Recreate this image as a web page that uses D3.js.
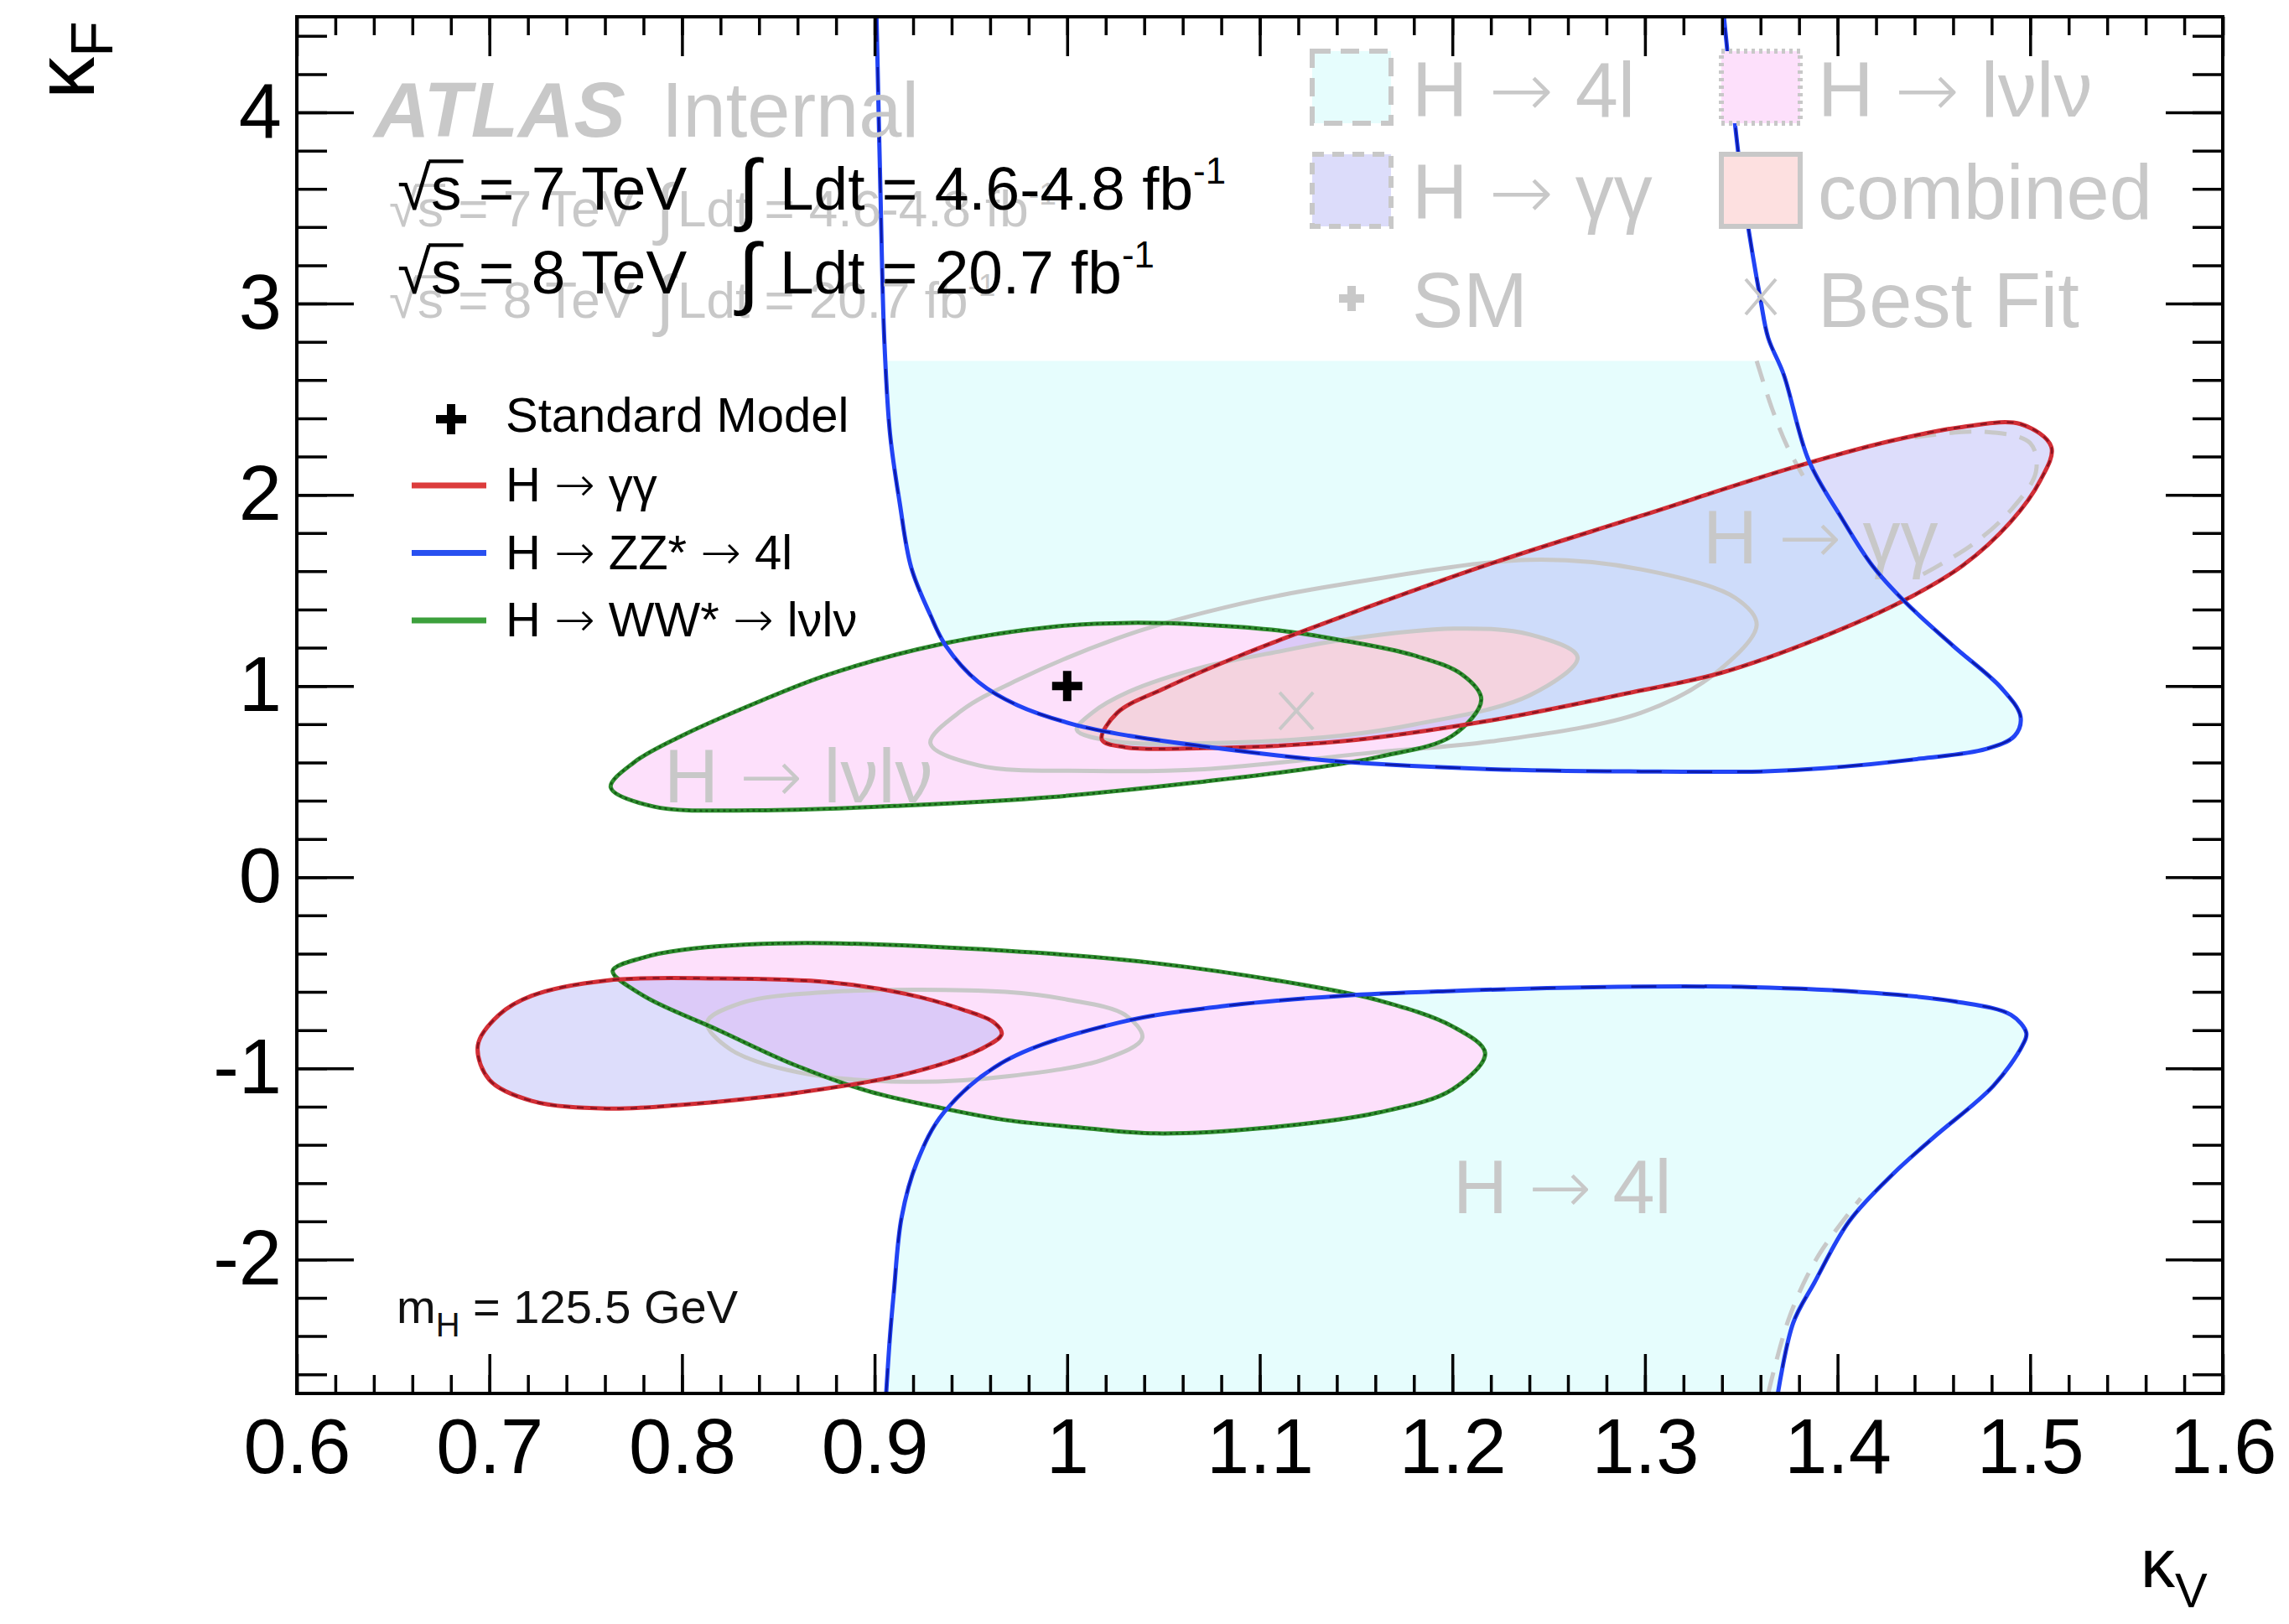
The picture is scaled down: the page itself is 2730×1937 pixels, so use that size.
<!DOCTYPE html>
<html>
<head>
<meta charset="utf-8">
<script src="https://cdn.jsdelivr.net/npm/d3@7"></script>
<style>
  body { margin: 0; background: #fff; }
  text { font-family: "Liberation Sans", Arial, Helvetica, sans-serif; }
</style>
</head>
<body>
<script>
// axis ranges and tick labels
const kvRange = [0.6, 1.6];
const kfRange = [-2.7, 4.5];
const xTickVals = [0.6, 0.7, 0.8, 0.9, 1.0, 1.1, 1.2, 1.3, 1.4, 1.5, 1.6];
const yTickVals = [-2, -1, 0, 1, 2, 3, 4];
const fillCut = 2.7; // old legend pad hides fills above this kF

// contours, [kV, kF]
const fourUpper = [[0.901,4.5],[0.903,3.6],[0.905,2.82],[0.908,2.32],[0.913,1.96],[0.919,1.62],[0.929,1.37],[0.937,1.21],[0.954,1.02],[0.974,0.90],[1.003,0.80],[1.032,0.74],[1.071,0.684],[1.11,0.636],[1.142,0.605],[1.22,0.565],[1.298,0.553],[1.36,0.553],[1.393,0.57],[1.443,0.62],[1.477,0.67],[1.492,0.74],[1.495,0.84],[1.485,0.99],[1.46,1.21],[1.435,1.44],[1.418,1.63],[1.402,1.88],[1.385,2.18],[1.372,2.63],[1.364,2.82],[1.36,3.02],[1.351,3.58],[1.341,4.5]];
const fourLower = [[0.906,-2.7],[0.908,-2.4],[0.91,-2.17],[0.914,-1.78],[0.922,-1.49],[0.936,-1.23],[0.968,-0.96],[1.027,-0.76],[1.085,-0.67],[1.143,-0.62],[1.2,-0.595],[1.273,-0.575],[1.356,-0.575],[1.419,-0.605],[1.461,-0.65],[1.49,-0.72],[1.498,-0.815],[1.496,-0.88],[1.481,-1.09],[1.45,-1.36],[1.429,-1.55],[1.406,-1.8],[1.388,-2.12],[1.377,-2.33],[1.369,-2.7]];
const gamUpper = [[1.018,0.72],[1.026,0.86],[1.051,0.99],[1.09,1.16],[1.142,1.36],[1.22,1.64],[1.298,1.89],[1.376,2.14],[1.427,2.28],[1.465,2.355],[1.495,2.37],[1.511,2.25],[1.505,2.07],[1.49,1.86],[1.465,1.63],[1.435,1.45],[1.393,1.26],[1.34,1.07],[1.29,0.96],[1.22,0.82],[1.142,0.71],[1.071,0.675],[1.03,0.68]];
const gamLower = [[0.694,-0.88],[0.705,-0.72],[0.722,-0.62],[0.761,-0.54],[0.819,-0.53],[0.877,-0.55],[0.916,-0.61],[0.945,-0.69],[0.962,-0.76],[0.966,-0.82],[0.955,-0.9],[0.916,-1.03],[0.858,-1.13],[0.8,-1.19],[0.761,-1.21],[0.722,-1.17],[0.7,-1.06]];
const wwUpper = [[0.763,0.47],[0.775,0.6],[0.8,0.74],[0.838,0.91],[0.876,1.06],[0.935,1.22],[0.993,1.31],[1.032,1.33],[1.071,1.32],[1.11,1.29],[1.142,1.24],[1.18,1.16],[1.205,1.06],[1.215,0.93],[1.2,0.74],[1.162,0.63],[1.12,0.56],[1.071,0.5],[0.993,0.42],[0.916,0.375],[0.838,0.35],[0.785,0.37]];
const wwLower = [[0.764,-0.49],[0.78,-0.42],[0.8,-0.38],[0.858,-0.345],[0.968,-0.385],[1.046,-0.45],[1.124,-0.566],[1.162,-0.645],[1.2,-0.78],[1.217,-0.92],[1.2,-1.11],[1.162,-1.23],[1.104,-1.31],[1.046,-1.34],[1.007,-1.31],[0.968,-1.27],[0.936,-1.21],[0.897,-1.12],[0.858,-0.98],[0.819,-0.8],[0.78,-0.62]];
const combInner = [[1.005,0.77],[1.013,0.86],[1.032,0.97],[1.071,1.1],[1.11,1.18],[1.142,1.24],[1.201,1.3],[1.24,1.27],[1.265,1.15],[1.24,0.95],[1.181,0.8],[1.142,0.74],[1.071,0.7],[1.025,0.71]];
const combOuter = [[0.929,0.7],[0.945,0.87],[0.974,1.03],[1.032,1.27],[1.09,1.43],[1.142,1.53],[1.24,1.66],[1.298,1.61],[1.347,1.46],[1.358,1.32],[1.337,1.07],[1.298,0.86],[1.22,0.71],[1.162,0.655],[1.071,0.565],[1.013,0.556],[0.954,0.585]];
const combLower = [[0.813,-0.76],[0.83,-0.66],[0.877,-0.6],[0.968,-0.6],[1.0,-0.64],[1.03,-0.72],[1.039,-0.84],[1.02,-0.95],[0.97,-1.04],[0.916,-1.07],[0.86,-1.02],[0.825,-0.9]];
// old (gray, dashed) outlines where they peek out
const old4lUpper = [[1.358,2.7],[1.366,2.45],[1.374,2.25],[1.382,2.1]];
const old4lLower = [[1.364,-2.7],[1.375,-2.3],[1.39,-1.98],[1.412,-1.68]];
const oldGamTip = [[1.44,2.3],[1.475,2.33],[1.5,2.27],[1.503,2.12],[1.49,1.92],[1.47,1.74],[1.44,1.56]];

const smPoint = [1.0, 1.0];
const bestFit = [1.119, 0.87];

const W = 2730, H = 1937;
const frame = { left: 354, right: 2651, top: 20, bottom: 1662 };
const grey = "#c8c8c8";
const ARROW = "\u2192";

const x = d3.scaleLinear().domain(kvRange).range([frame.left, frame.right]);
const y = d3.scaleLinear().domain(kfRange).range([frame.bottom, frame.top]);

const svg = d3.select("body").append("svg").attr("width", W).attr("height", H);

// writes a label, drawing the arrows in a font with a long arrow glyph
const richText = (t, str) => {
  str.split(ARROW).forEach((part, i) => {
    if (i > 0) t.append("tspan").style("font-family", "'DejaVu Sans'").attr("font-weight", 200).text(ARROW);
    if (part) t.append("tspan").text(part);
  });
  return t;
};

svg.append("clipPath").attr("id", "plot")
  .append("rect")
  .attr("x", frame.left).attr("y", frame.top)
  .attr("width", frame.right - frame.left).attr("height", frame.bottom - frame.top);
svg.append("clipPath").attr("id", "fillcut")
  .append("rect")
  .attr("x", frame.left).attr("y", y(fillCut))
  .attr("width", frame.right - frame.left).attr("height", frame.bottom - y(fillCut));

let openLine = d3.line().x(d => x(d[0])).y(d => y(d[1])).curve(d3.curveCatmullRom.alpha(0.5));
let closedLine = d3.line().x(d => x(d[0])).y(d => y(d[1])).curve(d3.curveCatmullRomClosed.alpha(0.5));

const plot = svg.append("g").attr("clip-path", "url(#plot)");

// fills
const fills = plot.append("g").attr("clip-path", "url(#fillcut)");
fills.append("path").attr("d", openLine(fourUpper) + "Z").attr("fill", "#e6fdfd");
fills.append("path").attr("d", openLine(fourLower) + "Z").attr("fill", "#e6fdfd");
[wwUpper, wwLower].forEach(c => {
  fills.append("path").attr("d", closedLine(c)).attr("fill", "#fde0fb");
});
[gamUpper, gamLower].forEach(c => {
  fills.append("path").attr("d", closedLine(c)).attr("fill", "rgba(170,170,245,0.4)");
});
fills.append("path").attr("d", closedLine(combInner)).attr("fill", "#f4d3df");

// grey overlay labels inside the plot
const greyLabels = [
  { t: "H " + ARROW + " \u03b3\u03b3", x: 2031, y: 672 },
  { t: "H " + ARROW + " l\u03bdl\u03bd", x: 792, y: 957 },
  { t: "H " + ARROW + " 4l", x: 1733, y: 1447 }
];
greyLabels.forEach(d => {
  richText(plot.append("text").attr("x", d.x).attr("y", d.y)
    .attr("font-size", 90).attr("fill", grey), d.t);
});

// grey combined contours
[combOuter, combInner, combLower].forEach(c => {
  plot.append("path").attr("d", closedLine(c))
    .attr("fill", "none").attr("stroke", grey).attr("stroke-width", 5);
});
[old4lUpper, old4lLower, oldGamTip].forEach(c => {
  plot.append("path").attr("d", openLine(c))
    .attr("fill", "none").attr("stroke", grey).attr("stroke-width", 5)
    .attr("stroke-dasharray", "26,16");
});

// coloured contour lines
const drawContour = (d, col, dark, dash) => {
  plot.append("path").attr("d", d).attr("fill", "none")
    .attr("stroke", col).attr("stroke-width", 5);
  plot.append("path").attr("d", d).attr("fill", "none")
    .attr("stroke", dark).attr("stroke-width", 2.5)
    .attr("stroke-dasharray", dash);
};
drawContour(closedLine(wwUpper), "#2e8b2e", "#145a14", "3,4");
drawContour(closedLine(wwLower), "#2e8b2e", "#145a14", "3,4");
drawContour(closedLine(gamUpper), "#d22e36", "#8c1420", "8,8");
drawContour(closedLine(gamLower), "#d22e36", "#8c1420", "8,8");
drawContour(openLine(fourUpper), "#2244f5", "#0c1aa8", "30,30");
drawContour(openLine(fourLower), "#2244f5", "#0c1aa8", "30,30");

// SM cross and best fit marker
plot.append("path")
  .attr("d", `M${x(smPoint[0]) - 18},${y(smPoint[1])}h36M${x(smPoint[0])},${y(smPoint[1]) - 18}v36`)
  .attr("stroke", "#000").attr("stroke-width", 10);
plot.append("path")
  .attr("d", `M${x(bestFit[0]) - 20},${y(bestFit[1]) - 22}l40,44M${x(bestFit[0]) + 20},${y(bestFit[1]) - 22}l-40,44`)
  .attr("stroke", grey).attr("stroke-width", 4);

// axes
const fmt = d => String(+d.toFixed(1));
const axisStyle = g => {
  g.select(".domain").remove();
  g.selectAll("line").attr("stroke", "#000").attr("stroke-width", 3.5);
  g.selectAll("text").attr("font-size", 92).attr("fill", "#000")
    .style("font-family", "'Liberation Sans', Arial, sans-serif");
};
svg.append("g").attr("transform", `translate(0,${frame.bottom})`)
  .call(d3.axisBottom(x).tickValues(xTickVals).tickSize(-47).tickPadding(30).tickFormat(fmt))
  .call(axisStyle);
svg.append("g").attr("transform", `translate(0,${frame.bottom})`)
  .call(d3.axisBottom(x).tickValues(x.ticks(50)).tickSize(-22).tickFormat(""))
  .call(axisStyle);
svg.append("g").attr("transform", `translate(0,${frame.top})`)
  .call(d3.axisTop(x).tickValues(xTickVals).tickSize(-47).tickFormat(""))
  .call(axisStyle);
svg.append("g").attr("transform", `translate(0,${frame.top})`)
  .call(d3.axisTop(x).tickValues(x.ticks(50)).tickSize(-22).tickFormat(""))
  .call(axisStyle);
svg.append("g").attr("transform", `translate(${frame.left},0)`)
  .call(d3.axisLeft(y).tickValues(yTickVals).tickSize(-68).tickPadding(18).tickFormat(d => String(d)))
  .call(axisStyle);
svg.append("g").attr("transform", `translate(${frame.left},0)`)
  .call(d3.axisLeft(y).tickValues(y.ticks(36)).tickSize(-36).tickFormat(""))
  .call(axisStyle);
svg.append("g").attr("transform", `translate(${frame.right},0)`)
  .call(d3.axisRight(y).tickValues(yTickVals).tickSize(-68).tickFormat(""))
  .call(axisStyle);
svg.append("g").attr("transform", `translate(${frame.right},0)`)
  .call(d3.axisRight(y).tickValues(y.ticks(36)).tickSize(-36).tickFormat(""))
  .call(axisStyle);
svg.append("rect")
  .attr("x", frame.left).attr("y", frame.top)
  .attr("width", frame.right - frame.left).attr("height", frame.bottom - frame.top)
  .attr("fill", "none").attr("stroke", "#000").attr("stroke-width", 4);

// axis titles
const kv = svg.append("text").attr("x", 2553).attr("y", 1893).attr("font-size", 82);
kv.append("tspan").text("\u03ba");
kv.append("tspan").attr("font-size", 58).attr("dy", 24).text("V");
const kf = svg.append("text").attr("transform", "translate(112,118) rotate(-90)").attr("font-size", 100);
kf.append("tspan").text("\u03ba");
kf.append("tspan").attr("font-size", 70).attr("dy", 22).text("F");

// ATLAS label and luminosity lines
const atlas = svg.append("text").attr("x", 446).attr("y", 163).attr("font-size", 92).attr("fill", grey);
atlas.append("tspan").attr("font-weight", "bold").attr("font-style", "italic").text("ATLAS");
atlas.append("tspan").attr("x", 789).text("Internal");

const lumiLines = [
  { e: "7", l: "4.6-4.8" },
  { e: "8", l: "20.7" }
];
const drawLumi = (g, d, x0, yb, size, col, intX, ldtX) => {
  const t = g.append("text").attr("x", x0).attr("y", yb).attr("font-size", size).attr("fill", col);
  t.append("tspan").text("\u221as");
  t.append("tspan").text(" = " + d.e + " TeV");
  t.append("tspan").attr("x", intX).attr("font-size", size * 1.3).attr("dy", size * 0.1).text("\u222b");
  t.append("tspan").attr("x", ldtX).attr("dy", -size * 0.1).text("Ldt = " + d.l + " fb");
  t.append("tspan").attr("font-size", size * 0.6).attr("dy", -size * 0.42).text("-1");
  // radical bar over the s
  const n = t.node();
  const s0 = n.getStartPositionOfChar(1).x, s1 = n.getEndPositionOfChar(1).x;
  g.append("line").attr("x1", s0 - 3).attr("x2", s1 + 2)
    .attr("y1", yb - size * 0.79).attr("y2", yb - size * 0.79)
    .attr("stroke", col).attr("stroke-width", size * 0.06);
};
lumiLines.forEach((d, i) => drawLumi(svg, d, 464, 270 + i * 109, 62, grey, 782, 808));
lumiLines.forEach((d, i) => drawLumi(svg, d, 474, 250 + i * 100, 73, "#000", 880, 930));

// new legend (left)
const legRows = [
  { t: "H " + ARROW + " \u03b3\u03b3", c: "#dc3c3c" },
  { t: "H " + ARROW + " ZZ* " + ARROW + " 4l", c: "#2850f0" },
  { t: "H " + ARROW + " WW* " + ARROW + " l\u03bdl\u03bd", c: "#3ca03c" }
];
svg.append("path").attr("d", "M520,500h36M538,482v36").attr("stroke", "#000").attr("stroke-width", 10);
svg.append("text").attr("x", 603).attr("y", 515).attr("font-size", 58).text("Standard Model");
legRows.forEach((d, i) => {
  const g = svg.append("g").attr("transform", `translate(0,${579 + i * 80.5})`);
  g.append("line").attr("x1", 491).attr("x2", 580).attr("stroke", d.c).attr("stroke-width", 7);
  richText(g.append("text").attr("x", 603).attr("y", 19).attr("font-size", 58), d.t);
});

// m_H label
const mh = svg.append("text").attr("x", 473).attr("y", 1578).attr("font-size", 56).attr("fill", "#111");
mh.append("tspan").text("m");
mh.append("tspan").attr("font-size", 40).attr("dy", 16).text("H");
mh.append("tspan").attr("dy", -16).text(" = 125.5 GeV");

// old legend (grey, top right)
const oldLeg = [
  { t: "H " + ARROW + " 4l", fill: "#e6fdfd", dash: "22,12", bx: 1565, by: 61, tx: 1684, ty: 139 },
  { t: "H " + ARROW + " l\u03bdl\u03bd", fill: "#fde0fb", dash: "4,5", bx: 2053, by: 61, tx: 2168, ty: 139 },
  { t: "H " + ARROW + " \u03b3\u03b3", fill: "#dcdcfa", dash: "14,10", bx: 1565, by: 184, tx: 1684, ty: 261 },
  { t: "combined", fill: "#fde0e0", dash: null, bx: 2053, by: 184, tx: 2168, ty: 261 }
];
oldLeg.forEach(d => {
  svg.append("rect").attr("x", d.bx).attr("y", d.by).attr("width", 94).attr("height", 86)
    .attr("fill", d.fill).attr("stroke", grey).attr("stroke-width", 6)
    .attr("stroke-dasharray", d.dash);
  richText(svg.append("text").attr("x", d.tx).attr("y", d.ty).attr("font-size", 92).attr("fill", grey), d.t);
});
svg.append("path").attr("d", "M1597,356h30M1612,341v30").attr("stroke", grey).attr("stroke-width", 10);
svg.append("text").attr("x", 1684).attr("y", 390).attr("font-size", 92).attr("fill", grey).text("SM");
svg.append("path").attr("d", "M2082,333l36,42M2118,333l-36,42").attr("stroke", grey).attr("stroke-width", 4);
svg.append("text").attr("x", 2168).attr("y", 390).attr("font-size", 92).attr("fill", grey).text("Best Fit");
</script>
</body>
</html>
